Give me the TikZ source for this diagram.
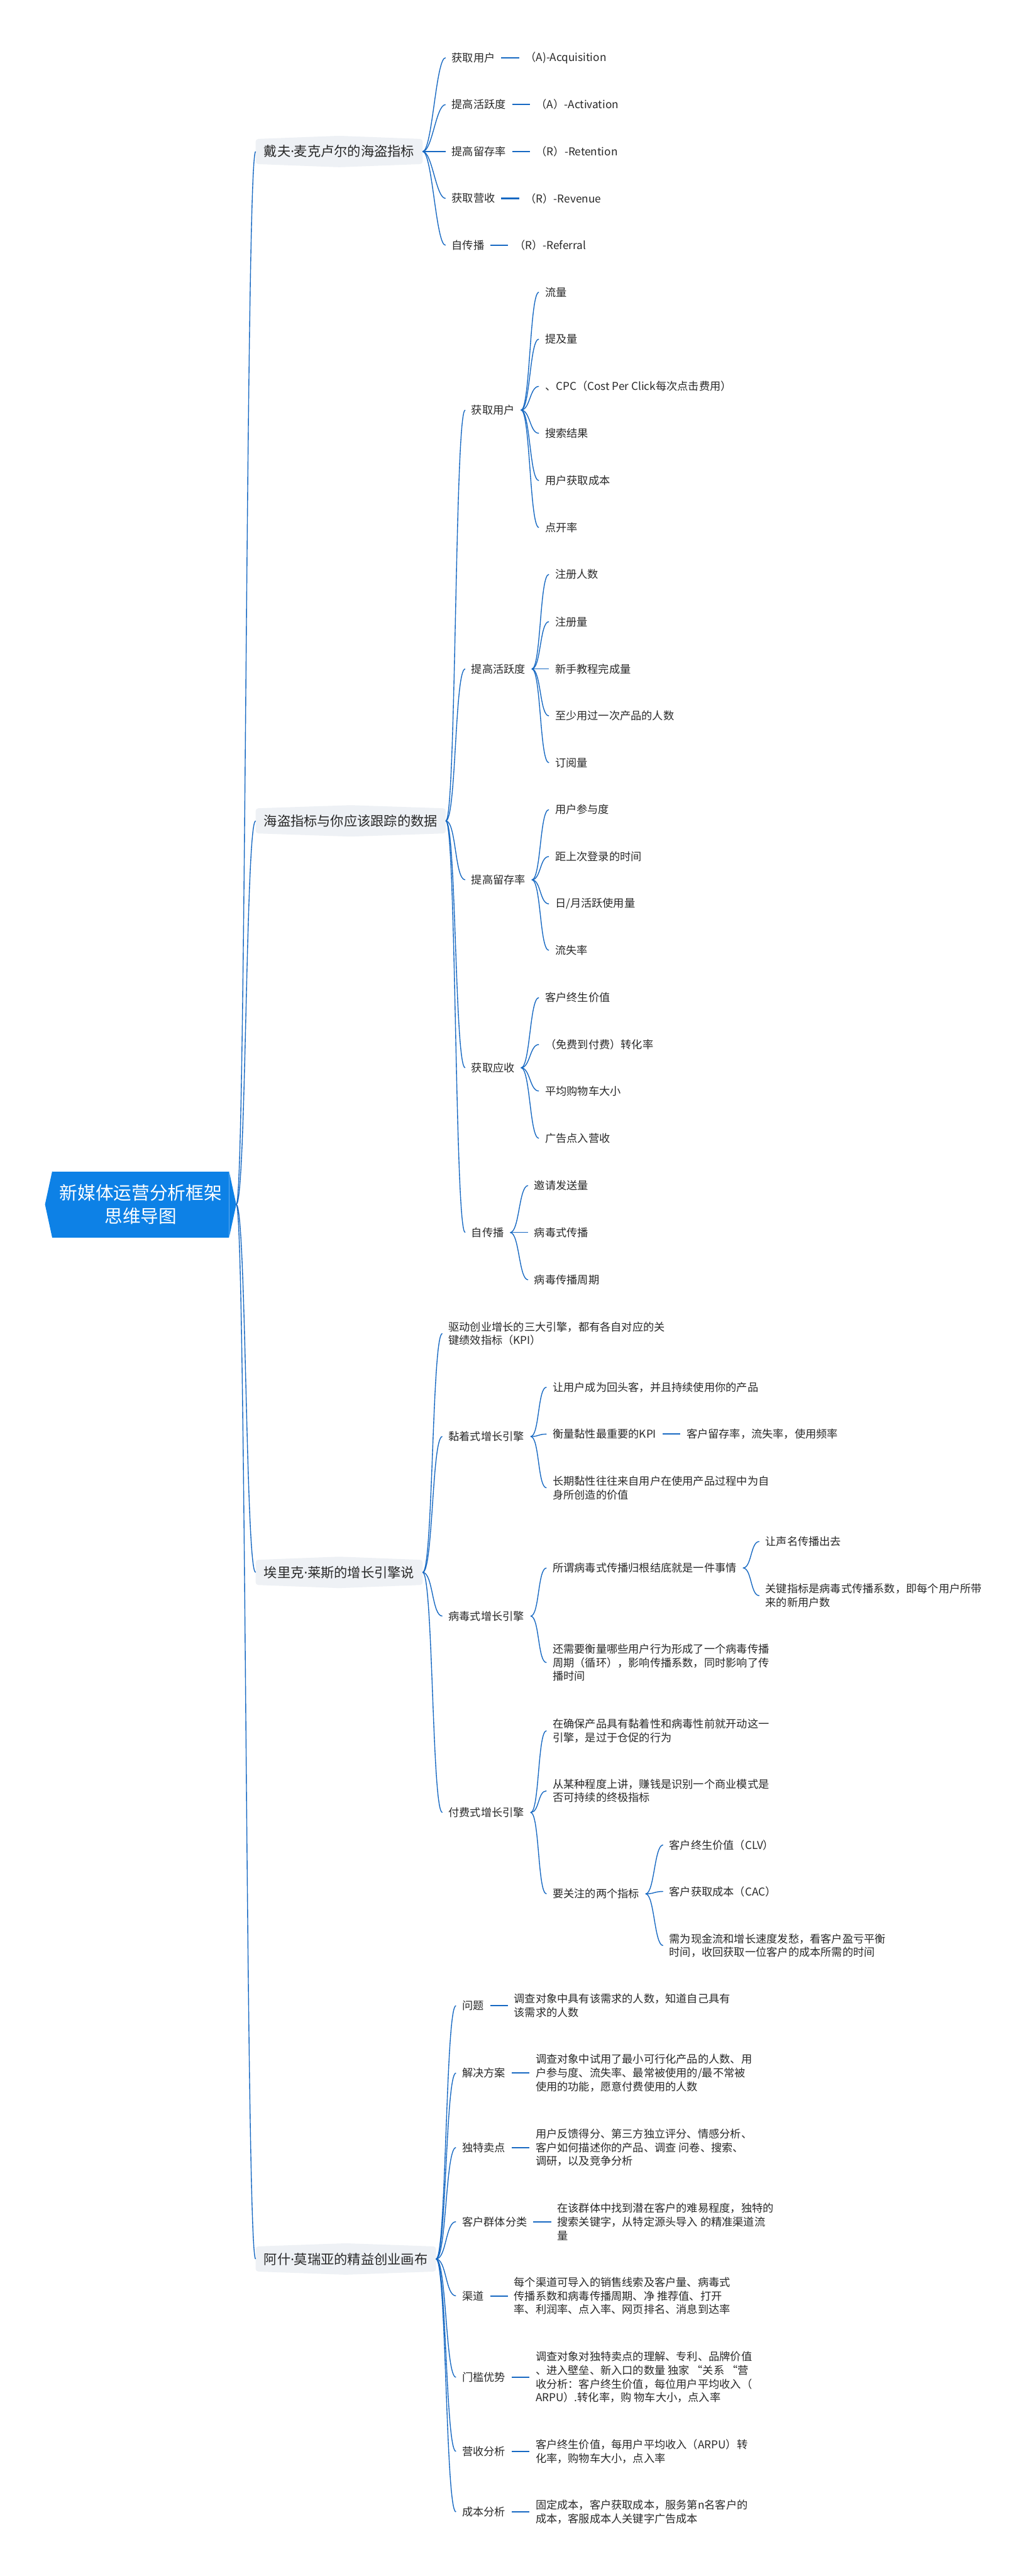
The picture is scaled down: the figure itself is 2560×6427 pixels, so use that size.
\documentclass[tikz,border=0pt]{standalone}
\usepackage{fontspec}
\setmainfont{Noto Sans CJK SC}
\newfontfamily\latinfont{Noto Sans}
\newcommand{\mdot}{{\latinfont ·}}
\usetikzlibrary{positioning,backgrounds}
\definecolor{rootblue}{RGB}{13,129,230}
\definecolor{linkblue}{RGB}{22,104,194}
\definecolor{topicgray}{RGB}{238,241,245}
\definecolor{ink}{RGB}{40,40,40}

\begin{document}
\begin{tikzpicture}[
      x=0.3pt,y=-0.3pt,
      node distance=13.2pt,
      rootnode/.style={fill=rootblue,text=white,minimum width=132pt,minimum height=49.5pt,
                       inner sep=0pt,align=center,font=\fontsize{13.5}{17.4}\selectfont},
      topic/.style={anchor=west,text=ink,inner xsep=6pt,minimum height=18.3pt,
                    font=\fontsize{10}{12}\selectfont},
      item/.style={anchor=west,text=ink,inner xsep=4.5pt,inner ysep=2pt,align=left,
                   font=\fontsize{8.1}{10.2}\selectfont},
      link/.style={draw=linkblue,line width=0.65pt},
      stub/.style={draw=linkblue,line width=1pt}
    ]
    \useasboundingbox (0,0) rectangle (2560,6427);

    \node[rootnode] (root) at (351,3005) {新媒体运营分析框架\\思维导图};
    \coordinate (tip) at ([xshift=5.4pt]root.east);
    \fill[rootblue] (root.north east) -- (tip) -- (root.south east) -- cycle;
    \fill[rootblue] (root.north west) -- ([xshift=-5.4pt]root.west) -- (root.south west) -- cycle;

    \node[topic] (dave) at (638,378) {戴夫\mdot 麦克卢尔的海盗指标};
    \node[topic] (aarrr) at (638,2048) {海盗指标与你应该跟踪的数据};
    \node[topic] (eric) at (638,3923) {埃里克\mdot 莱斯的增长引擎说};
    \node[topic] (ash) at (638,5636) {阿什\mdot 莫瑞亚的精益创业画布};

    \node[item] (d1) at (1112,144) {获取用户};
    \node[item] (d2) at (1112,261) {提高活跃度};
    \node[item] (d3) at (1112,378) {提高留存率};
    \node[item] (d4) at (1112,495) {获取营收};
    \node[item] (d5) at (1112,612) {自传播};
    \node[item,right=of d1] (dv1) {（A)-Acquisition};
    \node[item,right=of d2] (dv2) {（A）-Activation};
    \node[item,right=of d3] (dv3) {（R）-Retention};
    \node[item,right=of d4] (dv4) {（R）-Revenue};
    \node[item,right=of d5] (dv5) {（R）-Referral};

    \node[item] (a1) at (1161,1023) {获取用户};
    \node[item] (a2) at (1161,1669) {提高活跃度};
    \node[item] (a3) at (1161,2195) {提高留存率};
    \node[item] (a4) at (1161,2664) {获取应收};
    \node[item] (a5) at (1161,3075) {自传播};

    \node[item] (a1-1) at (1345,729) {流量};
    \node[item] (a1-2) at (1345,846) {提及量};
    \node[item] (a1-3) at (1345,964) {、CPC（Cost Per Click每次点击费用）};
    \node[item] (a1-4) at (1345,1081) {搜索结果};
    \node[item] (a1-5) at (1345,1199) {用户获取成本};
    \node[item] (a1-6) at (1345,1316) {点开率};

    \node[item] (a2-1) at (1370,1433) {注册人数};
    \node[item] (a2-2) at (1370,1551) {注册量};
    \node[item] (a2-3) at (1370,1669) {新手教程完成量};
    \node[item] (a2-4) at (1370,1786) {至少用过一次产品的人数};
    \node[item] (a2-5) at (1370,1903) {订阅量};

    \node[item] (a3-1) at (1370,2020) {用户参与度};
    \node[item] (a3-2) at (1370,2137) {距上次登录的时间};
    \node[item] (a3-3) at (1370,2255) {日/月活跃使用量};
    \node[item] (a3-4) at (1370,2371) {流失率};

    \node[item] (a4-1) at (1345,2489) {客户终生价值};
    \node[item] (a4-2) at (1345,2606) {（免费到付费）转化率};
    \node[item] (a4-3) at (1345,2722) {平均购物车大小};
    \node[item] (a4-4) at (1345,2840) {广告点入营收};

    \node[item] (a5-1) at (1318,2958) {邀请发送量};
    \node[item] (a5-2) at (1318,3075) {病毒式传播};
    \node[item] (a5-3) at (1318,3193) {病毒传播周期};

    \node[item] (e0) at (1104,3327) {驱动创业增长的三大引擎，都有各自对应的关\\键绩效指标（KPI）};
    \node[item] (e1) at (1104,3584) {黏着式增长引擎};
    \node[item] (e2) at (1104,4032) {病毒式增长引擎};
    \node[item] (e3) at (1104,4522) {付费式增长引擎};

    \node[item] (e1-1) at (1364,3461) {让用户成为回头客，并且持续使用你的产品};
    \node[item] (e1-2) at (1364,3578) {衡量黏性最重要的KPI};
    \node[item,right=of e1-2] (ev) {客户留存率，流失率，使用频率};
    \node[item] (e1-3) at (1364,3712) {长期黏性往往来自用户在使用产品过程中为自\\身所创造的价值};

    \node[item] (e2-1) at (1364,3912) {所谓病毒式传播归根结底就是一件事情};
    \node[item] (e2-2) at (1364,4148) {还需要衡量哪些用户行为形成了一个病毒传播\\周期（循环），影响传播系数，同时影响了传\\播时间};
    \node[item] (e2-1-1) at (1895,3846) {让声名传播出去};
    \node[item] (e2-1-2) at (1895,3981) {关键指标是病毒式传播系数，即每个用户所带\\来的新用户数};

    \node[item] (e3-1) at (1364,4318) {在确保产品具有黏着性和病毒性前就开动这一\\引擎，是过于仓促的行为};
    \node[item] (e3-2) at (1364,4468) {从某种程度上讲，赚钱是识别一个商业模式是\\否可持续的终极指标};
    \node[item] (e3-3) at (1364,4725) {要关注的两个指标};
    \node[item] (e3-3-1) at (1655,4603) {客户终生价值（CLV）};
    \node[item] (e3-3-2) at (1655,4719) {客户获取成本（CAC）};
    \node[item] (e3-3-3) at (1655,4854) {需为现金流和增长速度发愁，看客户盈亏平衡\\时间，收回获取一位客户的成本所需的时间};

    \node[item] (c1) at (1138,5004) {问题};
    \node[item] (c2) at (1138,5172) {解决方案};
    \node[item] (c3) at (1138,5358) {独特卖点};
    \node[item] (c4) at (1138,5543) {客户群体分类};
    \node[item] (c5) at (1138,5728) {渠道};
    \node[item] (c6) at (1138,5931) {门槛优势};
    \node[item] (c7) at (1138,6116) {营收分析};
    \node[item] (c8) at (1138,6267) {成本分析};
    \node[item,right=of c1] (cv1) {调查对象中具有该需求的人数，知道自己具有\\该需求的人数};
    \node[item,right=of c2] (cv2) {调查对象中试用了最小可行化产品的人数、用\\户参与度、流失率、最常被使用的/最不常被\\使用的功能，愿意付费使用的人数};
    \node[item,right=of c3] (cv3) {用户反馈得分、第三方独立评分、情感分析、\\客户如何描述你的产品、调查 问卷、搜索、\\调研，以及竞争分析};
    \node[item,right=of c4] (cv4) {在该群体中找到潜在客户的难易程度，独特的\\搜索关键字，从特定源头导入 的精准渠道流\\量};
    \node[item,right=of c5] (cv5) {每个渠道可导入的销售线索及客户量、病毒式\\传播系数和病毒传播周期、净 推荐值、打开\\率、利润率、点入率、网页排名、消息到达率};
    \node[item,right=of c6] (cv6) {调查对象对独特卖点的理解、专利、品牌价值\\、进入壁垒、新入口的数量 独家 “关系 “营\\收分析：客户终生价值，每位用户平均收入（\\ARPU）.转化率，购 物车大小，点入率};
    \node[item,right=of c7] (cv7) {客户终生价值，每用户平均收入（ARPU）转\\化率，购物车大小，点入率};
    \node[item,right=of c8] (cv8) {固定成本，客户获取成本，服务第n名客户的\\成本，客服成本人关键字广告成本};

    \foreach \t in {dave,aarrr,eric,ash}
      \draw[link] (tip) .. controls +(25,0) and +(-25,0) .. (\t.west);

    \foreach \i in {1,...,5} {
      \draw[link] (dave.east) .. controls +(24,0) and +(-24,0) .. (d\i.west);
      \draw[stub] (d\i.east) -- (dv\i.west);
      \draw[link] (aarrr.east) .. controls +(26,0) and +(-26,0) .. (a\i.west);
    }
    \foreach \j in {1,...,6}
      \draw[link] (a1.east) .. controls +(23,0) and +(-23,0) .. (a1-\j.west);
    \foreach \j in {1,...,5}
      \draw[link] (a2.east) .. controls +(23,0) and +(-23,0) .. (a2-\j.west);
    \foreach \j in {1,...,4} {
      \draw[link] (a3.east) .. controls +(23,0) and +(-23,0) .. (a3-\j.west);
      \draw[link] (a4.east) .. controls +(23,0) and +(-23,0) .. (a4-\j.west);
    }
    \foreach \j in {1,...,3}
      \draw[link] (a5.east) .. controls +(23,0) and +(-23,0) .. (a5-\j.west);

    \foreach \n in {e0,e1,e2,e3}
      \draw[link] (eric.east) .. controls +(26,0) and +(-26,0) .. (\n.west);
    \foreach \j in {1,...,3} {
      \draw[link] (e1.east) .. controls +(22,0) and +(-22,0) .. (e1-\j.west);
      \draw[link] (e3.east) .. controls +(22,0) and +(-22,0) .. (e3-\j.west);
      \draw[link] (e3-3.east) .. controls +(22,0) and +(-22,0) .. (e3-3-\j.west);
    }
    \draw[stub] (e1-2.east) -- (ev.west);
    \foreach \j in {1,2} {
      \draw[link] (e2.east) .. controls +(22,0) and +(-22,0) .. (e2-\j.west);
      \draw[link] (e2-1.east) .. controls +(22,0) and +(-22,0) .. (e2-1-\j.west);
    }

    \foreach \i in {1,...,8} {
      \draw[link] (ash.east) .. controls +(26,0) and +(-26,0) .. (c\i.west);
      \draw[stub] (c\i.east) -- (cv\i.west);
    }

    \begin{scope}[on background layer]
      \fill[white] (0,0) rectangle (2560,6427);
      \foreach \t in {dave,aarrr,eric,ash}
        \fill[topicgray,rounded corners=2pt] (\t.north west) -- ([yshift=2.4pt]\t.north)
          -- (\t.north east) -- (\t.south east) -- ([yshift=-2.4pt]\t.south)
          -- (\t.south west) -- cycle;
    \end{scope}
  \end{tikzpicture}
\end{document}
